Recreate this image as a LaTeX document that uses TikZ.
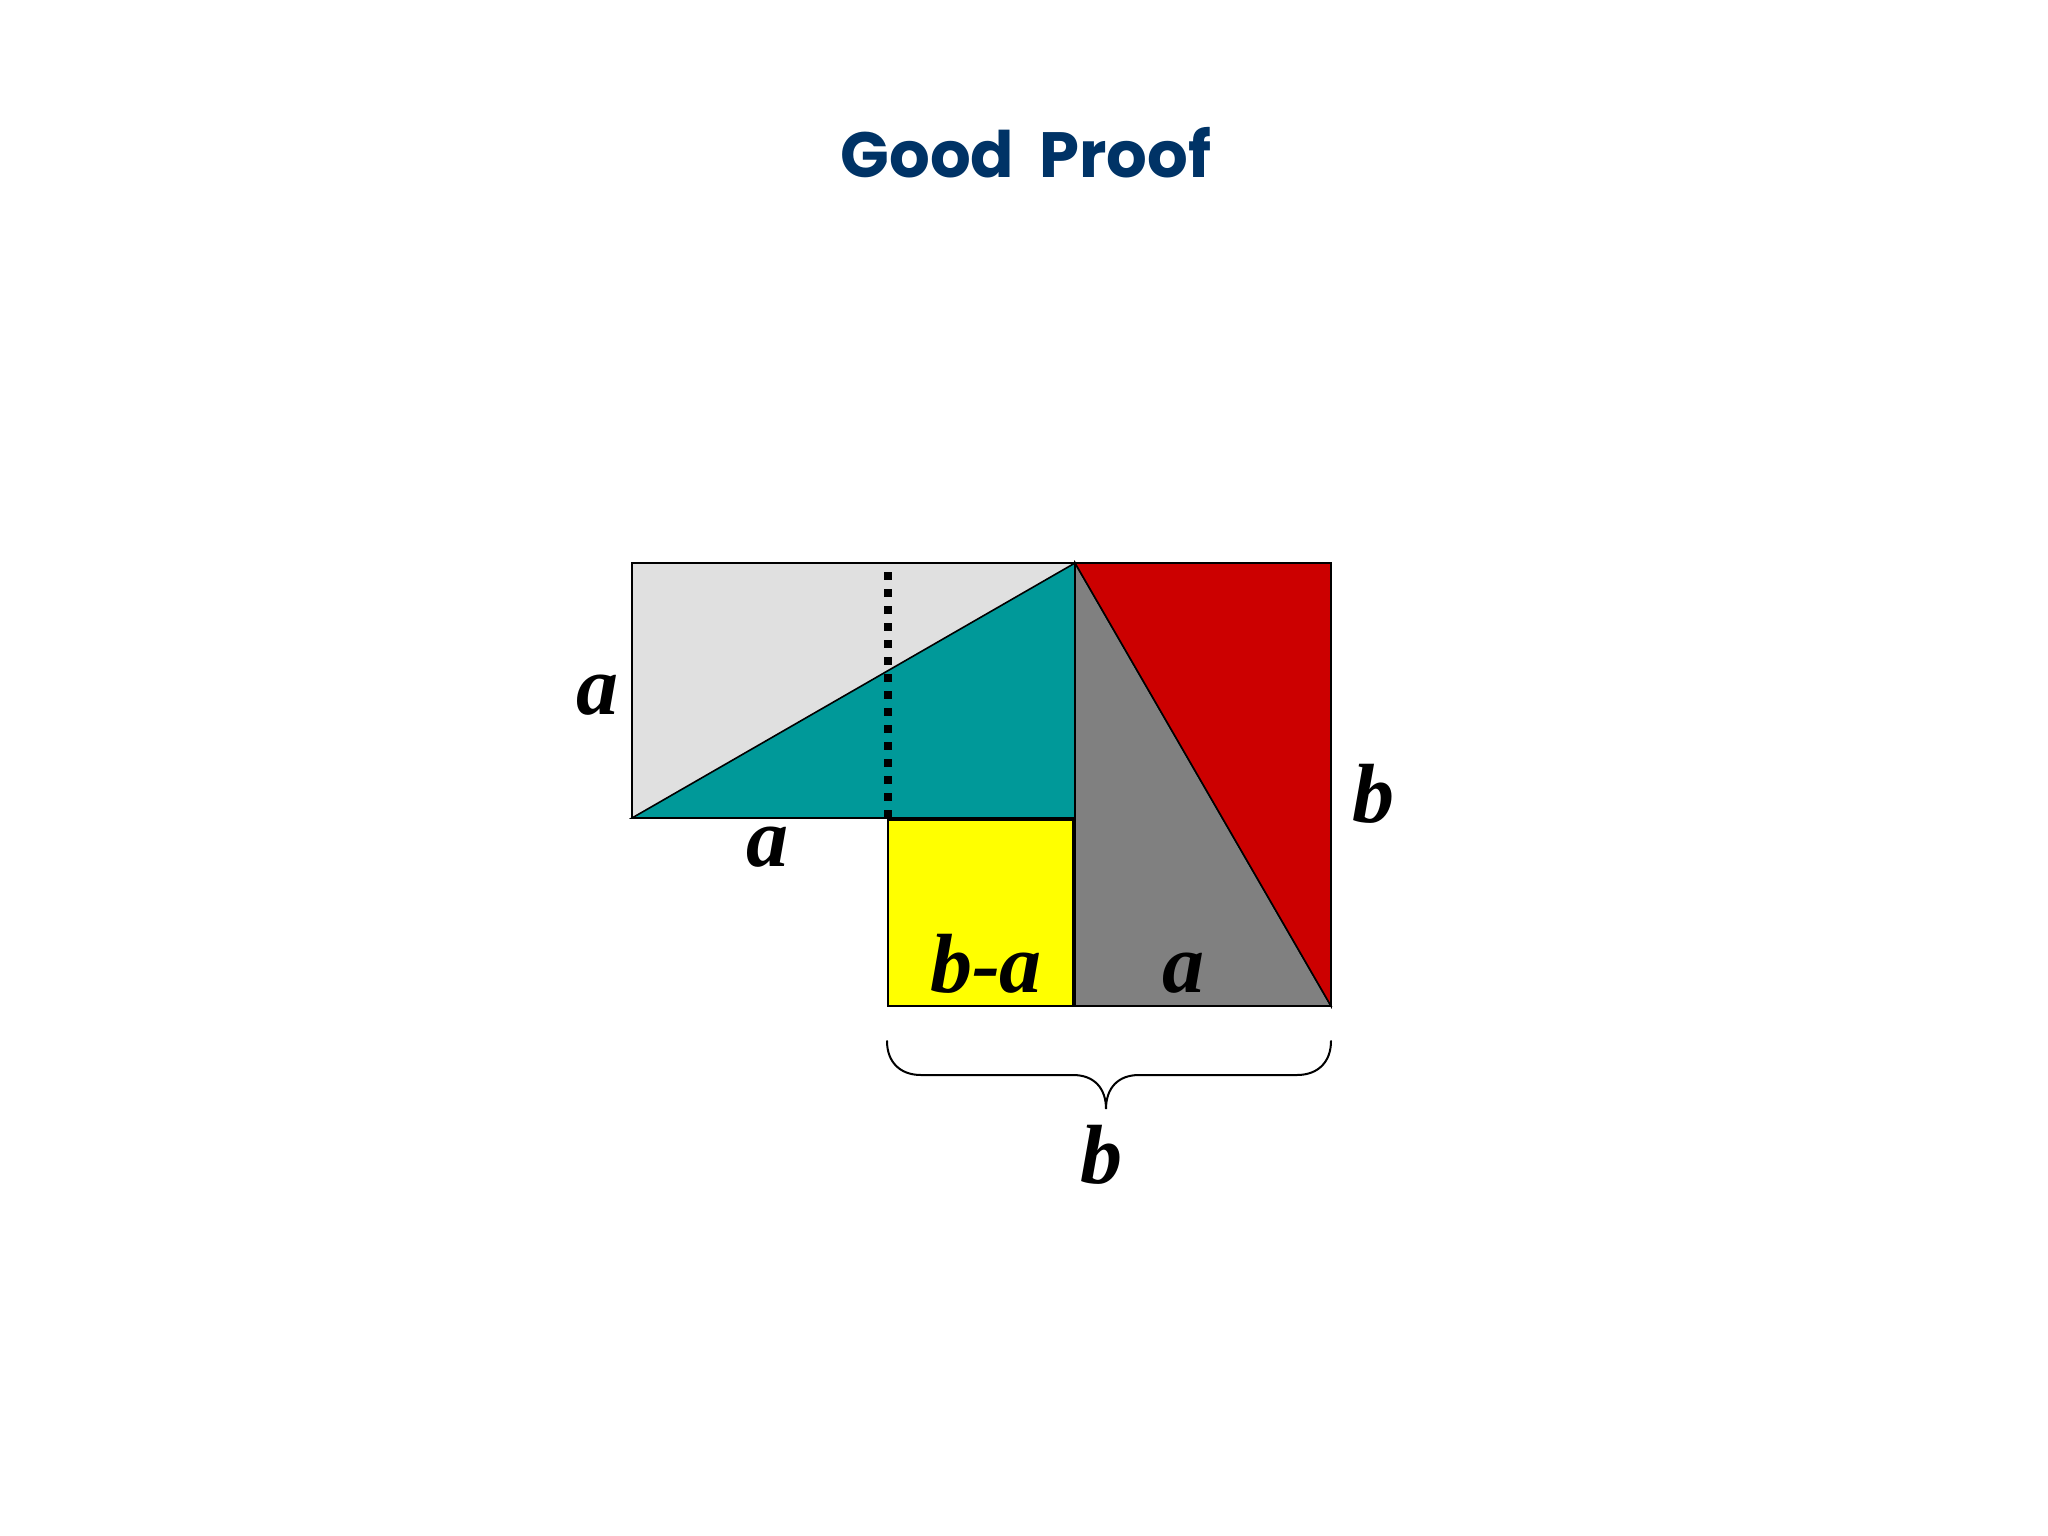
\documentclass[tikz,border=0pt]{standalone}
\usepackage{fontspec}
\setmainfont{Liberation Serif}
\newfontfamily\titlefont{Poppins}
\definecolor{ltgray}{HTML}{E0E0E0}
\definecolor{teal1}{HTML}{009999}
\definecolor{yel}{HTML}{FFFF00}
\definecolor{midgray}{HTML}{808080}
\definecolor{redd}{HTML}{CC0000}
\definecolor{titleblue}{HTML}{003366}
\tikzset{
  piece/.style={draw=black, line width=1.6pt, line join=miter},
  lbl/.style={font=\fontsize{84}{90}\selectfont\bfseries\itshape, anchor=base, inner sep=0pt},
  ttl/.style={font=\titlefont\bfseries\fontsize{64}{74}\selectfont, text=titleblue, anchor=base, inner sep=0pt},
  dotline/.style={line width=8pt, dash pattern=on 8pt off 9pt, black},
  bracestyle/.style={draw=black, line width=2pt, line cap=round}
}
\begin{document}
\begin{tikzpicture}[x=1pt,y=-1pt]
\useasboundingbox (0,0) rectangle (2048,1536);
% key points
\coordinate (A) at (632,563);   % top-left of rectangle
\coordinate (B) at (1075,563);  % top apex
\coordinate (C) at (1075,818);  % bottom-right of rectangle
\coordinate (D) at (632,818);   % bottom-left of rectangle
\coordinate (E) at (1331,563);  % top-right red
\coordinate (F) at (1331,1006); % bottom-right
\coordinate (G) at (1075,1006); % bottom of gray left
\coordinate (Y1) at (888,820);
\coordinate (Y2) at (1073,1006);
\coordinate (P1) at (888,572);
\coordinate (P2) at (888,818);
% pieces
\path[piece, fill=ltgray] (A) rectangle (C);
\path[piece, fill=teal1] (D) -- (B) -- (C) -- cycle;
\draw[dotline] (P1) -- (P2);
\path[piece, fill=yel] (Y1) rectangle (Y2);
\path[piece, fill=midgray] (B) -- (G) -- (F) -- cycle;
\path[piece, fill=redd] (B) -- (E) -- (F) -- cycle;
% brace
\coordinate (BrL) at (887,1041);
\coordinate (BrR) at (1331,1041);
\coordinate (BrT) at (1106,1109);
\draw[bracestyle] (BrL) .. controls (887,1062) and (900,1075) .. (921,1075)
  -- (1073,1075) .. controls (1094,1075) and (1106,1088) .. (BrT)
  .. controls (1106,1088) and (1118,1075) .. (1139,1075)
  -- (1297,1075) .. controls (1318,1075) and (1331,1062) .. (BrR);
% labels
\node[lbl] (la1) at (597,714) {a};
\node[lbl] (la2) at (767,866) {a};
\node[lbl] (lba) at (986,992) {b-a};
\node[lbl] (la3) at (1183,992) {a};
\node[lbl] (lb1) at (1373,822) {b};
\node[lbl] (lb2) at (1101,1183) {b};
% title
\node[ttl] (title) at (1026,178) {Good\hspace{0.18em} Proof};
\end{tikzpicture}
\end{document}
